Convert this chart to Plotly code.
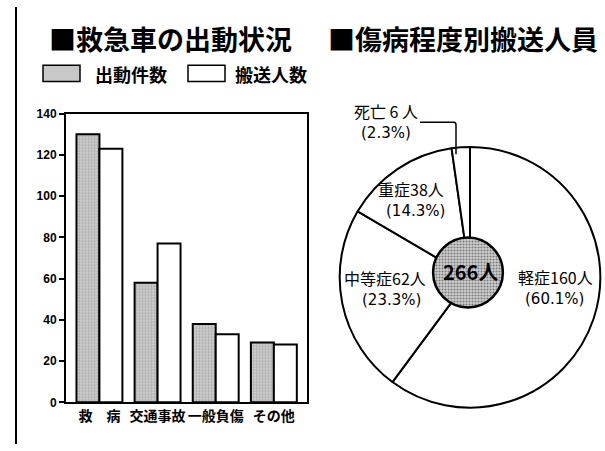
import plotly.graph_objects as go

W, H = 605, 451

# ---- data ----
categories = ["救　病", "交通事故", "一般負傷", "その他"]
dispatch = [130, 58, 38, 29]          # 出動件数
transported = [123, 77, 33, 28]       # 搬送人数
y_ticks = [0, 20, 40, 60, 80, 100, 120, 140]

pie_labels = ["軽症", "中等症", "重症", "死亡"]
pie_values = [160, 62, 38, 6]
pie_pct = ["60.1%", "23.3%", "14.3%", "2.3%"]
total_text = "266人"


def px(x):
    return x / W


def py(y):
    return 1 - y / H


JP = "Noto Sans CJK JP"
GRAY_PATTERN = dict(shape=".", fgcolor="#7a7a7a", bgcolor="#d0d0d0", size=3, solidity=0.4)

fig = go.Figure()

fig.add_trace(go.Bar(
    x=categories, y=dispatch, name="出動件数",
    marker=dict(color="#c8c8c8", line=dict(color="black", width=2), pattern=GRAY_PATTERN),
    showlegend=False,
))
fig.add_trace(go.Bar(
    x=categories, y=transported, name="搬送人数",
    marker=dict(color="white", line=dict(color="black", width=2)),
    showlegend=False,
))

# pie
fig.add_trace(go.Pie(
    values=pie_values, labels=pie_labels, sort=False, direction="clockwise", rotation=0,
    marker=dict(colors=["white"] * len(pie_values), line=dict(color="black", width=2)),
    textinfo="none", textposition="none", showlegend=False,
    domain=dict(x=[px(335.5), px(604.5)], y=[py(413.5), py(144.5)]),
))
# centre disk
fig.add_trace(go.Pie(
    values=[sum(pie_values)], labels=["合計"], sort=False,
    marker=dict(colors=["#c8c8c8"], line=dict(color="black", width=2.5), pattern=GRAY_PATTERN),
    textinfo="none", textposition="none", showlegend=False,
    domain=dict(x=[px(432), px(504)], y=[py(310), py(238)]),
))

annotations = []


def add_text(x, y, text, size, anchor="center", bold=False, family=JP):
    annotations.append(dict(
        x=px(x), y=py(y), xref="paper", yref="paper", text=text, showarrow=False,
        xanchor=anchor, yanchor="middle", align="center",
        font=dict(family=family, size=size, color="black", weight=700 if bold else 400),
    ))


# titles
add_text(47, 33, "■救急車の出動状況", 27, anchor="left", bold=True)
add_text(326, 33, "■傷病程度別搬送人員", 27, anchor="left", bold=True)
# legend text
add_text(93, 69, "出動件数", 18, anchor="left", bold=True)
add_text(233, 69, "搬送人数", 18, anchor="left", bold=True)

# pie labels
name_pos = {"軽症": (555, 279), "中等症": (385, 280), "重症": (411, 188), "死亡": (386, 107)}
pct_pos = {"軽症": (554, 301), "中等症": (391, 302), "重症": (415, 211), "死亡": (386, 130)}
for lab, val, pct in zip(pie_labels, pie_values, pie_pct):
    name = f"{lab} {val} 人" if val < 10 else f"{lab}{val}人"
    nx, ny = name_pos[lab]
    add_text(nx, ny, name, 16)
    qx, qy = pct_pos[lab]
    add_text(qx, qy, f"({pct})", 15, family="DejaVu Sans")

add_text(470, 273, total_text, 20, bold=True)

shapes = [
    # page left rule
    dict(type="line", xref="paper", yref="paper", x0=px(16), x1=px(16), y0=0, y1=1,
         line=dict(color="black", width=2)),
    # legend boxes
    dict(type="rect", xref="paper", yref="paper", x0=px(43), x1=px(80), y0=py(77), y1=py(60),
         fillcolor="#c8c8c8", line=dict(color="black", width=1.5)),
    dict(type="rect", xref="paper", yref="paper", x0=px(188), x1=px(225), y0=py(77), y1=py(60),
         fillcolor="white", line=dict(color="black", width=1.5)),
    # leader line for 死亡
    dict(type="path", xref="paper", yref="paper",
         path=f"M {px(420)},{py(119)} L {px(454)},{py(119)} Q {px(456)},{py(119)} {px(456)},{py(122)} L {px(456)},{py(152)}",
         line=dict(color="black", width=1.5)),
]

fig.update_layout(
    width=W, height=H,
    margin=dict(l=0, r=0, t=0, b=0),
    paper_bgcolor="white", plot_bgcolor="white",
    barmode="group", bargap=0.21, bargroupgap=0,
    xaxis=dict(
        domain=[px(66), px(307)], range=[-0.575, 3.57], type="category",
        showline=True, linecolor="black", linewidth=2, mirror=True,
        ticks="", showgrid=False, zeroline=False,
        tickfont=dict(family=JP, size=14, color="black", weight=700),
    ),
    yaxis=dict(
        domain=[py(408), py(110)], range=[0, 140], tickvals=y_ticks,
        showline=True, linecolor="black", linewidth=2, mirror=True,
        ticks="outside", ticklen=5, tickwidth=2, tickcolor="black",
        showgrid=False, zeroline=False,
        tickfont=dict(family="Liberation Sans", size=12, color="black", weight=700),
    ),
    annotations=annotations,
    shapes=shapes,
)

fig.write_html("out.html")
